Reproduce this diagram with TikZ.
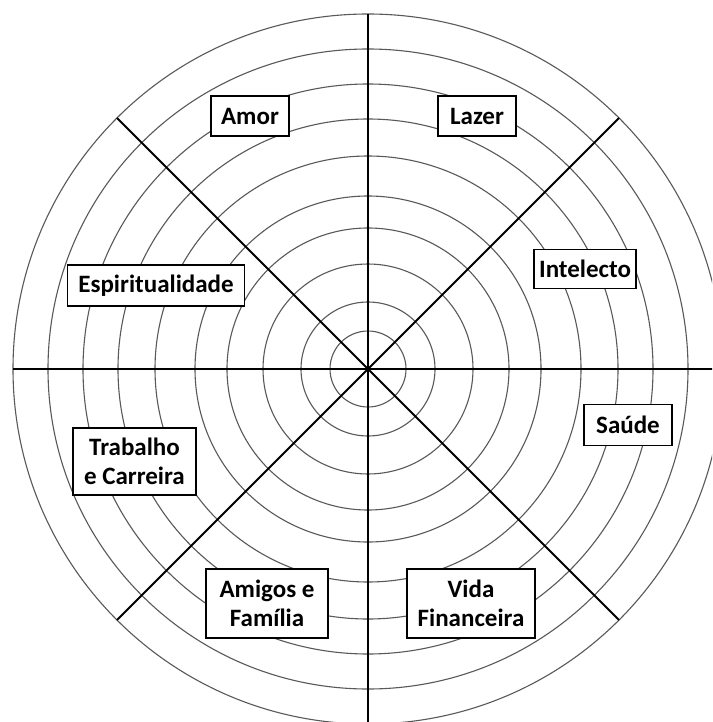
\documentclass[tikz,border=0pt]{standalone}
\usepackage{fontspec}
\setmainfont{Carlito}
\begin{document}
\begin{tikzpicture}[x=1pt,y=-1pt,
  ring/.style={draw=black!65, line width=1.1pt},
  ray/.style={draw=black, line width=2pt},
  lbl/.style={draw=black, fill=white, line width=1.1pt,
    font=\bfseries\fontsize{25}{28.5}\selectfont, align=center,
    inner sep=0pt}]
\fill[white] (0,0) rectangle (712,722);
\useasboundingbox (0,0) rectangle (712,722);
\begin{scope}
\clip (0,0) rectangle (712,722);
\coordinate (O) at (368,369);
\foreach \r in {38,67,105,141,173,213,250,285,320,355}
  \draw[ring] (O) circle[radius=\r pt];
\foreach \a in {0,45,...,315}
  \coordinate (R\a) at ([shift={(O)}]\a:355pt);
\draw[ray] (R90) -- (R270);
\draw[ray] (R180) -- (R0);
\draw[ray] (R135) -- (R315);
\draw[ray] (R45) -- (R225);
\end{scope}
\node[lbl, minimum width=78pt, minimum height=40pt] (amor) at (250,116) {Amor};
\node[lbl, minimum width=78pt, minimum height=40pt] (lazer) at (477,116) {Lazer};
\node[lbl, minimum width=102pt, minimum height=39pt] (intelecto) at (585,269) {Intelecto};
\node[lbl, minimum width=177pt, minimum height=41pt] (espir) at (156,285.5) {Espiritualidade};
\node[lbl, minimum width=88pt, minimum height=41pt] (saude) at (628,425) {Saúde};
\node[lbl, minimum width=123pt, minimum height=67pt] (trab) at (134.5,461.5) {Trabalho\\e Carreira};
\node[lbl, minimum width=122pt, minimum height=69pt] (amigos) at (267,603.5) {Amigos e\\Família};
\node[lbl, minimum width=128pt, minimum height=69pt] (vida) at (471,603.5) {Vida\\Financeira};
\end{tikzpicture}
\end{document}
